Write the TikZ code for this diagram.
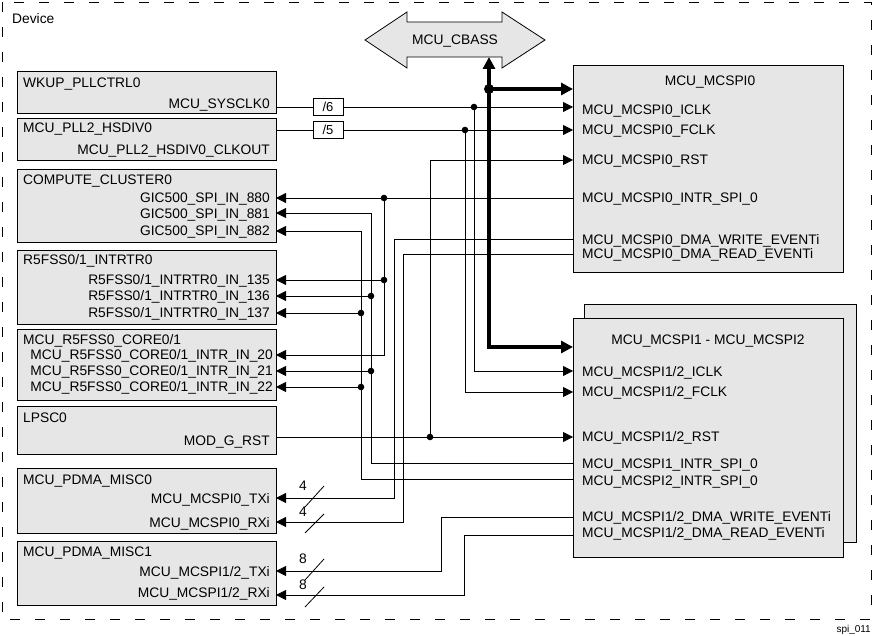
\documentclass[tikz,border=0pt]{standalone}
\usepackage{fontspec}
\setmainfont{Liberation Sans}
\usepackage{tikz}
\usetikzlibrary{arrows.meta}
\definecolor{blockgray}{RGB}{230,230,230}

\begin{document}
\begin{tikzpicture}[x=1pt,y=-1pt,
	block/.style={draw,fill=blockgray,line width=0.8pt,inner sep=0pt,anchor=north west},
	lbl/.style={inner sep=0pt,font=\fontsize{13.8}{15}\selectfont,text height=9.8pt,text depth=0pt},
	port/.style={lbl,anchor=east},
	pin/.style={lbl,anchor=west},
	divbox/.style={draw,fill=white,line width=0.8pt,minimum width=30pt,minimum height=17pt,inner sep=0pt,font=\fontsize{13}{15}\selectfont},
	wire/.style={line width=0.8pt},
	sig/.style={wire,-{Triangle[length=10pt,width=10pt]}},
	Bus/.tip={Triangle[length=12pt,width=12pt]},
	bus/.style={line width=4pt}]
	
	\useasboundingbox (0,0) rectangle (873,636);
	\draw[line width=0.8pt,dash pattern=on 10pt off 15pt] (2,2) rectangle (871,619);
	\node[lbl,anchor=west] (device) at (12,19) {Device};
	\node[inner sep=0pt,font=\fontsize{10}{12}\selectfont,anchor=east] (figid) at (871,630) {spi\_011};
	
	% left blocks
	\node[block,minimum width=259pt,minimum height=42pt] (wkup) at (17,71) {};
	\node[block,minimum width=259pt,minimum height=42pt] (hsdiv) at (17,118) {};
	\node[block,minimum width=259pt,minimum height=73pt] (compute) at (17,169) {};
	\node[block,minimum width=259pt,minimum height=74pt] (intrtr) at (17,250) {};
	\node[block,minimum width=259pt,minimum height=71pt] (r5core) at (17,329) {};
	\node[block,minimum width=259pt,minimum height=48pt] (lpsc) at (17,406) {};
	\node[block,minimum width=259pt,minimum height=65pt] (pdma0) at (17,468) {};
	\node[block,minimum width=259pt,minimum height=64pt] (pdma1) at (17,541) {};
	
	\node[pin] (wkupt) at (23,83) {WKUP\_PLLCTRL0};
	\node[port] (sysclk) at (270,104) {MCU\_SYSCLK0};
	\node[pin] (hsdivt) at (23,128) {MCU\_PLL2\_HSDIV0};
	\node[port] (clkout) at (270,150) {MCU\_PLL2\_HSDIV0\_CLKOUT};
	\node[pin] (computet) at (23,180) {COMPUTE\_CLUSTER0};
	\node[port] (gict0) at (270,198) {GIC500\_SPI\_IN\_880};
	\node[port] (gict1) at (270,214) {GIC500\_SPI\_IN\_881};
	\node[port] (gict2) at (270,231) {GIC500\_SPI\_IN\_882};
	\node[pin] (intrtrt) at (23,260) {R5FSS0/1\_INTRTR0};
	\node[port] (irt0) at (270,280) {R5FSS0/1\_INTRTR0\_IN\_135};
	\node[port] (irt1) at (270,296) {R5FSS0/1\_INTRTR0\_IN\_136};
	\node[port] (irt2) at (270,313) {R5FSS0/1\_INTRTR0\_IN\_137};
	\node[pin] (r5coret) at (23,340) {MCU\_R5FSS0\_CORE0/1};
	\node[port] (int0) at (273,355) {MCU\_R5FSS0\_CORE0/1\_INTR\_IN\_20};
	\node[port] (int1) at (273,371) {MCU\_R5FSS0\_CORE0/1\_INTR\_IN\_21};
	\node[port] (int2) at (273,387) {MCU\_R5FSS0\_CORE0/1\_INTR\_IN\_22};
	\node[pin] (lpsct) at (23,418) {LPSC0};
	\node[port] (modrst) at (270,441) {MOD\_G\_RST};
	\node[pin] (pdma0t) at (23,480) {MCU\_PDMA\_MISC0};
	\node[port] (txt0) at (270,499) {MCU\_MCSPI0\_TXi};
	\node[port] (rxt0) at (270,523) {MCU\_MCSPI0\_RXi};
	\node[pin] (pdma1t) at (23,552) {MCU\_PDMA\_MISC1};
	\node[port] (txt12) at (270,572) {MCU\_MCSPI1/2\_TXi};
	\node[port] (rxt12) at (270,593) {MCU\_MCSPI1/2\_RXi};
	
	% right blocks
	\node[block,minimum width=270pt,minimum height=207pt] (mcspi0) at (573,65) {};
	\node[block,minimum width=272pt,minimum height=238pt] (mcspi12b) at (584,304) {};
	\node[block,minimum width=270pt,minimum height=239pt] (mcspi12) at (573,318) {};
	
	\node[lbl] (mcspi0t) at (710,81) {MCU\_MCSPI0};
	\node[pin] (iclkt0) at (582,110) {MCU\_MCSPI0\_ICLK};
	\node[pin] (fclkt0) at (582,130) {MCU\_MCSPI0\_FCLK};
	\node[pin] (rstt0) at (582,160) {MCU\_MCSPI0\_RST};
	\node[pin] (intrt0) at (582,198) {MCU\_MCSPI0\_INTR\_SPI\_0};
	\node[pin] (wrt0) at (582,240) {MCU\_MCSPI0\_DMA\_WRITE\_EVENTi};
	\node[pin] (rdt0) at (582,254) {MCU\_MCSPI0\_DMA\_READ\_EVENTi};
	\node[lbl] (mcspi12t) at (708,340) {MCU\_MCSPI1 - MCU\_MCSPI2};
	\node[pin] (iclkt12) at (582,372) {MCU\_MCSPI1/2\_ICLK};
	\node[pin] (fclkt12) at (582,392) {MCU\_MCSPI1/2\_FCLK};
	\node[pin] (rstt12) at (582,437) {MCU\_MCSPI1/2\_RST};
	\node[pin] (intrt1) at (582,464) {MCU\_MCSPI1\_INTR\_SPI\_0};
	\node[pin] (intrt2) at (582,481) {MCU\_MCSPI2\_INTR\_SPI\_0};
	\node[pin] (wrt12) at (582,517) {MCU\_MCSPI1/2\_DMA\_WRITE\_EVENTi};
	\node[pin] (rdt12) at (582,533) {MCU\_MCSPI1/2\_DMA\_READ\_EVENTi};
	
	% bus
	\draw[fill=blockgray,line width=0.8pt] (365,40) -- (407,12) -- (407,22) -- (502,22) -- (502,12) -- (545,40)
		-- (502,68) -- (502,57) -- (407,57) -- (407,68) -- cycle;
	\node[lbl] (cbass) at (455,40) {MCU\_CBASS};
	
	\node[divbox] (div6) at (328,107) {/6};
	\node[divbox] (div5) at (328,130) {/5};
	
	% connection points
	\coordinate (sysclk-o) at (276,107);
	\coordinate (hsdiv-o) at (276,130);
	\coordinate (rst-o) at (276,437);
	\coordinate (gic880) at (276,198);
	\coordinate (gic881) at (276,213);
	\coordinate (gic882) at (276,231);
	\coordinate (ir135) at (276,280);
	\coordinate (ir136) at (276,296);
	\coordinate (ir137) at (276,313);
	\coordinate (in20) at (276,355);
	\coordinate (in21) at (276,371);
	\coordinate (in22) at (276,387);
	\coordinate (tx0) at (276,498);
	\coordinate (rx0) at (276,522);
	\coordinate (tx12) at (276,571);
	\coordinate (rx12) at (276,595);
	\coordinate (iclk0) at (573,107);
	\coordinate (fclk0) at (573,130);
	\coordinate (rst0) at (573,160);
	\coordinate (intr0) at (573,198);
	\coordinate (wr0) at (573,239);
	\coordinate (rd0) at (573,254);
	\coordinate (iclk12) at (573,371);
	\coordinate (fclk12) at (573,392);
	\coordinate (rst12) at (573,437);
	\coordinate (intr1) at (573,463);
	\coordinate (intr2) at (573,479);
	\coordinate (wr12) at (573,517);
	\coordinate (rd12) at (573,535);
	\coordinate (cbass-s) at (489,57);
	\coordinate (bus0) at (573,89);
	\coordinate (bus12) at (573,347);
	% junctions and bends
	\coordinate (jbus) at (489,89);
	\coordinate (jiclk) at (474,107);
	\coordinate (jfclk) at (465,130);
	\coordinate (jrst) at (430,437);
	\coordinate (jintr) at (384,198);
	\coordinate (ja135) at (384,280);
	\coordinate (jb136) at (371,296);
	\coordinate (jb21) at (371,371);
	\coordinate (jc137) at (361,313);
	\coordinate (jc22) at (361,387);
	\coordinate (b881) at (371,213);
	\coordinate (b882) at (361,231);
	\coordinate (btx0) at (394,498);
	\coordinate (brx0) at (403,522);
	\coordinate (btx12) at (441,571);
	\coordinate (brx12) at (464,595);
	
	% clocks and reset
	\draw[wire] (sysclk-o) -- (div6);
	\draw[sig] (div6) -- (iclk0);
	\draw[wire] (hsdiv-o) -- (div5);
	\draw[sig] (div5) -- (fclk0);
	\draw[sig] (jiclk) |- (iclk12);
	\draw[sig] (jfclk) |- (fclk12);
	\draw[sig] (rst-o) -- (rst12);
	\draw[sig] (jrst) |- (rst0);
	
	% interrupts
	\draw[sig] (intr0) -- (gic880);
	\draw[sig] (jintr) |- (in20);
	\draw[sig] (ja135) -- (ir135);
	\draw[sig] (intr1) -| (b881) -- (gic881);
	\draw[sig] (jb136) -- (ir136);
	\draw[sig] (jb21) -- (in21);
	\draw[sig] (intr2) -| (b882) -- (gic882);
	\draw[sig] (jc137) -- (ir137);
	\draw[sig] (jc22) -- (in22);
	
	% dma events
	\draw[sig] (wr0) -| (btx0) -- (tx0);
	\draw[sig] (rd0) -| (brx0) -- (rx0);
	\draw[sig] (wr12) -| (btx12) -- (tx12);
	\draw[sig] (rd12) -| (brx12) -- (rx12);
	
	\node[lbl] (wtx0) at (303,486) {4};
	\node[lbl] (wrx0) at (303,512) {4};
	\node[lbl] (wtx12) at (303,559) {8};
	\node[lbl] (wrx12) at (303,585) {8};
	\draw[wire] (305,507) -- (324,486);
	\draw[wire] (305,533) -- (324,514);
	\draw[wire] (305,580) -- (324,559);
	\draw[wire] (305,607) -- (324,587);
	
	% cbass interconnect
	\draw[bus,Bus-Bus] (cbass-s) |- (bus12);
	\draw[bus,-Bus] (jbus) -- (bus0);
	
	\fill (jbus) circle (5pt);
	\foreach \j in {jiclk,jfclk,jrst,jintr,ja135,jb136,jb21,jc137,jc22}
		\fill (\j) circle (3.3pt);
\end{tikzpicture}
\end{document}
